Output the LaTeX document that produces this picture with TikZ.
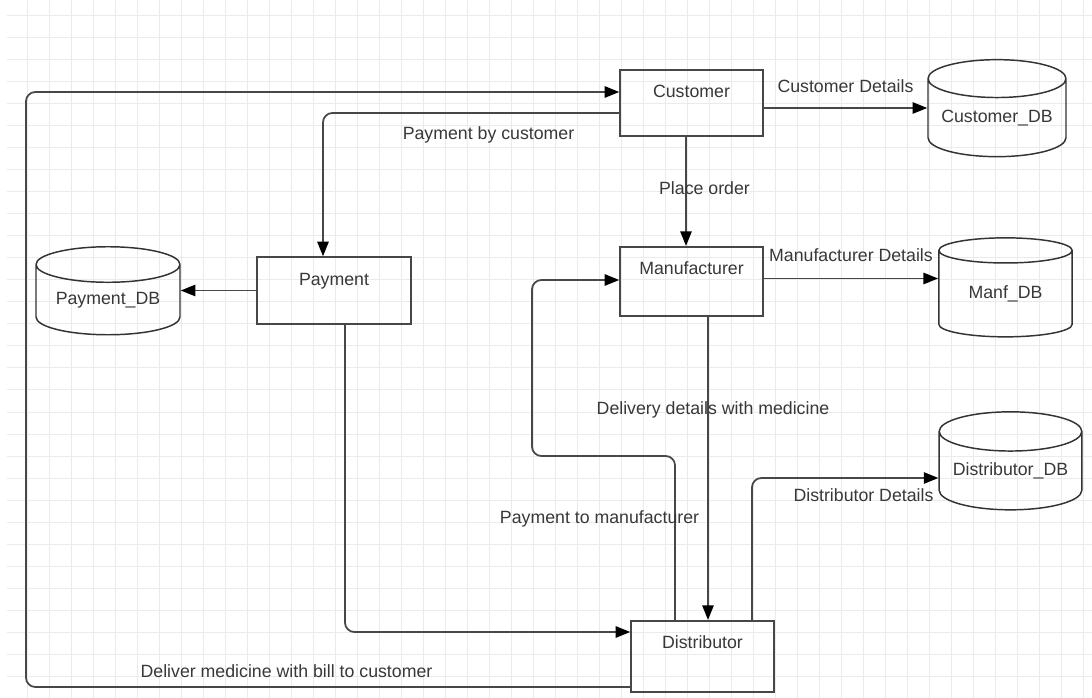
\documentclass[tikz,border=0pt]{standalone}
\usepackage{fontspec}
\setmainfont{Liberation Sans}
\usetikzlibrary{shapes.geometric, arrows.meta, calc}

\begin{document}
\begin{tikzpicture}[x=0.75pt, y=-0.75pt,
		font=\fontsize{13.3}{16}\selectfont, text=black!78,
		gridline/.style={draw=black!8, line width=0.75pt},
		process/.style={rectangle, draw=black!72, line width=1.3pt, minimum width=107pt, inner ysep=0pt, text height=21pt, text depth=29pt},
		store/.style={cylinder, shape border rotate=90, aspect=0.34, draw=black!80, line width=1.1pt, inner sep=0pt},
		flow/.style={draw=black!72, line width=1.3pt, -{Triangle[length=11pt, width=8.5pt, color=black]}},
		elbow/.style={flow, rounded corners=7pt},
		tag/.style={inner sep=0pt, anchor=base}]
		\fill[white] (0,0) rectangle (1092,698);
		\useasboundingbox (0,0) rectangle (1092,698);
		\foreach \gx in {27,49,...,1092} \draw[gridline] (\gx,0) -- (\gx,698);
		\foreach \gy in {16,38,...,698} \draw[gridline] (7,\gy) -- (1092,\gy);

		\node[process] (Customer) at (691.5,103) {Customer};
		\node[process, minimum width=115.5pt] (Payment) at (334,290.5) {Payment};
		\node[process, text depth=31pt] (Manufacturer) at (691.5,281.5) {Manufacturer};
		\node[process, text depth=32.5pt] (Distributor) at (702.5,656.5) {Distributor};

		\node[store, minimum width=103.5pt, minimum height=72.75pt] (CustomerDB) at (997,118) {Customer\_DB};
		\node[store, minimum width=108pt, minimum height=66pt] (PaymentDB) at (108,300) {Payment\_DB};
		\node[store, minimum width=100pt, minimum height=74.25pt] (ManfDB) at (1005.5,294) {Manf\_DB};
		\node[store, minimum width=107pt, minimum height=73.5pt] (DistributorDB) at (1010.5,471) {Distributor\_DB};

		\coordinate (custOut) at ($(Customer.east)+(0,5)$);
		\coordinate (manfOut) at ($(Manufacturer.east)+(0,-3)$);
		\coordinate (payTurn) at (532,456);
		\coordinate (loopTurn) at (26,400);

		\draw[flow] (custOut) -- (custOut -| CustomerDB.west);
		\draw[flow] ($(Customer.south)+(-5.5,0)$) -- ($(Manufacturer.north)+(-5.5,0)$);
		\draw[elbow] ($(Customer.west)+(0,10)$) -| ($(Payment.north)+(-11,0)$);
		\draw[flow] (Payment.west) -- (Payment.west -| PaymentDB.east);
		\draw[elbow] ($(Payment.south)+(11,0)$) |- ($(Distributor.west)+(0,-24.5)$);
		\draw[flow] (manfOut) -- (manfOut -| ManfDB.west);
		\draw[flow] ($(Manufacturer.south)+(16.5,0)$) -- ($(Distributor.north)+(5.5,0)$);
		\draw[elbow] ($(Distributor.north)+(-27.5,0)$) |- (payTurn) |- ($(Manufacturer.west)+(0,-1.5)$);
		\draw[elbow] ($(Distributor.north)+(49.5,0)$) |- ($(DistributorDB.west)+(0,7)$);
		\draw[elbow] ($(Distributor.west)+(0,30.5)$) -| (loopTurn) |- ($(Customer.west)+(0,-11)$);

		\node[tag] (lCustomer) at (845.5,93) {Customer Details};
		\node[tag] (lPayBy) at (488.5,139.5) {Payment by customer};
		\node[tag] (lOrder) at (704.5,194.5) {Place order};
		\node[tag] (lManf) at (851,261.5) {Manufacturer Details};
		\node[tag] (lDelivery) at (713,414.5) {Delivery details with medicine};
		\node[tag] (lPayTo) at (599.5,523.5) {Payment to manufacturer};
		\node[tag] (lDistributor) at (863.5,501.5) {Distributor Details};
		\node[tag] (lDeliver) at (286.5,677.5) {Deliver medicine with bill to customer};
\end{tikzpicture}
\end{document}
